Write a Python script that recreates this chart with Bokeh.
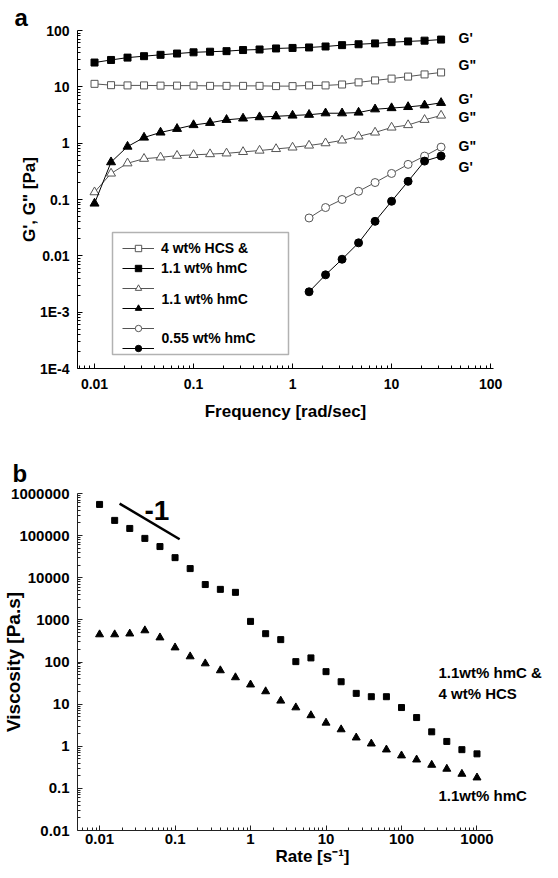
from bokeh.plotting import figure
from bokeh.layouts import column
from bokeh.models import (Range1d, FixedTicker, CustomJSTickFormatter, Legend,
                          LegendItem, Label, BoxAnnotation, Title)
from bokeh.embed import file_html
from bokeh.resources import INLINE

FONT = "Liberation Sans"

# ---------------- Panel a data ----------------
freq = [0.01, 0.01468, 0.02154, 0.03162, 0.04642, 0.06813, 0.1, 0.1468, 0.2154,
        0.3162, 0.4642, 0.6813, 1.0, 1.468, 2.154, 3.162, 4.642, 6.813, 10.0,
        14.68, 21.54, 31.62]
freq_055 = [1.468, 2.154, 3.162, 4.642, 6.813, 10.0, 14.68, 21.54, 31.62]

g1_hcs = [27, 30, 33, 35, 37, 39, 41, 42, 43, 45, 46, 48, 49, 50, 52, 55, 57, 59,
          62, 64, 66, 69]
g2_hcs = [11.3, 10.7, 10.6, 10.6, 10.5, 10.5, 10.5, 10.4, 10.4, 10.4, 10.4, 10.3,
          10.3, 10.6, 10.6, 11.0, 12.0, 13.0, 14.0, 15.2, 16.6, 18.0]
g1_hmc = [0.085, 0.46, 0.87, 1.26, 1.55, 1.8, 2.1, 2.3, 2.6, 2.75, 2.9, 3.0, 3.1,
          3.2, 3.4, 3.4, 3.5, 4.0, 4.2, 4.4, 4.7, 5.2]
g2_hmc = [0.135, 0.29, 0.44, 0.53, 0.56, 0.6, 0.62, 0.64, 0.66, 0.7, 0.74, 0.79,
          0.84, 0.91, 1.0, 1.12, 1.32, 1.55, 1.9, 2.1, 2.6, 3.1]
g2_055 = [0.047, 0.072, 0.1, 0.14, 0.2, 0.29, 0.42, 0.59, 0.85]
g1_055 = [0.0023, 0.0046, 0.0087, 0.017, 0.041, 0.093, 0.21, 0.48, 0.59]

curve_label_text = ["G'", 'G"', "G'", 'G"', 'G"', "G'"]
curve_label_x = [47.5] * 6
curve_label_y = [75, 24, 6.2, 2.87, 0.88, 0.37]

legend_labels = ["4 wt% HCS &", "1.1 wt% hmC", "1.1 wt% hmC", "0.55 wt% hmC"]

ya_ticks = [1e-4, 1e-3, 1e-2, 1e-1, 1, 10, 100]
xa_ticks = [0.01, 0.1, 1, 10, 100]

# ---------------- Panel b data ----------------
rate = [0.01, 0.01585, 0.02512, 0.03981, 0.0631, 0.1, 0.1585, 0.2512, 0.3981,
        0.631, 1.0, 1.585, 2.512, 3.981, 6.31, 10.0, 15.85, 25.12, 39.81, 63.1,
        100.0, 158.5, 251.2, 398.1, 631.0, 1000.0]
visc_hcs = [550000, 230000, 148000, 86000, 55000, 30000, 16500, 6900, 5300, 4500,
            920, 470, 340, 102, 125, 59, 34, 18, 15, 15, 8.3, 4.8, 2.2, 1.3,
            0.83, 0.66]
visc_hmc = [450, 450, 470, 560, 380, 220, 135, 92, 63, 43, 29, 20, 12, 8.3, 5.4,
            3.6, 2.5, 1.6, 1.15, 0.83, 0.6, 0.48, 0.36, 0.29, 0.22, 0.18]
slope_x = [0.0184, 0.115]
slope_y = [577000, 82000]
yb_ticks = [1e-2, 1e-1, 1, 10, 100, 1e3, 1e4, 1e5, 1e6]
xb_ticks = [0.01, 0.1, 1, 10, 100, 1000]
xb_bounds = (0.0051, 1550)


def minors(lo_exp, hi_exp, lo=0.0, hi=float("inf")):
    return [m * 10.0 ** e for e in range(lo_exp, hi_exp) for m in range(2, 10)
            if lo <= m * 10.0 ** e <= hi]


fmt_code = """
const e = Math.round(Math.log10(tick));
if (e <= -3) { return "1E" + e; }
if (e < 0) { return Math.pow(10, e).toFixed(-e); }
return String(Math.round(Math.pow(10, e)));
"""


def style(p, tick_size, title_size, axcolor="black"):
    for ax in (p.xaxis[0], p.yaxis[0]):
        ax.axis_line_color = axcolor
        ax.axis_line_width = 1
        ax.major_tick_line_color = axcolor
        ax.minor_tick_line_color = axcolor
        ax.major_tick_in = 5
        ax.major_tick_out = 0
        ax.minor_tick_in = 3
        ax.minor_tick_out = 0
        ax.major_label_text_font = FONT
        ax.major_label_text_font_style = "bold"
        ax.major_label_text_font_size = tick_size
        ax.major_label_text_color = "black"
        ax.axis_label_text_font = FONT
        ax.axis_label_text_font_style = "bold"
        ax.axis_label_text_font_size = title_size
        ax.axis_label_text_color = "black"
        ax.formatter = CustomJSTickFormatter(code=fmt_code)
    p.grid.visible = False
    p.outline_line_color = None
    p.background_fill_color = "white"
    p.border_fill_color = "white"


def panel_title(text, offset, standoff):
    return Title(text=text, align="left", offset=offset, standoff=standoff,
                 text_font=FONT, text_font_style="bold", text_font_size="24px",
                 text_color="black")


# ================= Panel a =================
pa = figure(x_axis_type="log", y_axis_type="log",
            x_range=Range1d(0.00673, 107), y_range=Range1d(1e-4, 100),
            frame_width=416, frame_height=338,
            min_border_left=70, min_border_right=56, min_border_top=30,
            min_border_bottom=65,
            title=panel_title("a", -63, 0),
            output_backend="svg", toolbar_location=None)
style(pa, "14px", "17px")
pa.xaxis[0].ticker = FixedTicker(ticks=xa_ticks, minor_ticks=minors(-3, 3))
pa.yaxis[0].ticker = FixedTicker(ticks=ya_ticks, minor_ticks=minors(-4, 2))
pa.xaxis[0].axis_label = "Frequency [rad/sec]"
pa.yaxis[0].axis_label = 'G\', G" [Pa]'
pa.xaxis[0].major_label_standoff = 10
pa.xaxis[0].axis_label_standoff = 10
pa.yaxis[0].major_label_standoff = 8
pa.yaxis[0].axis_label_standoff = -2

OPEN = "#555555"
l1 = pa.line(freq, g2_hcs, line_color=OPEN, line_width=1)
s1 = pa.scatter(freq, g2_hcs, marker="square", size=7, fill_color="white",
                line_color=OPEN, line_width=1)
l2 = pa.line(freq, g1_hcs, line_color="black", line_width=1)
s2 = pa.scatter(freq, g1_hcs, marker="square", size=7, fill_color="black",
                line_color="black")
l3 = pa.line(freq, g2_hmc, line_color=OPEN, line_width=1)
s3 = pa.scatter(freq, g2_hmc, marker="triangle", size=9, fill_color="white",
                line_color=OPEN, line_width=1)
l4 = pa.line(freq, g1_hmc, line_color="black", line_width=1)
s4 = pa.scatter(freq, g1_hmc, marker="triangle", size=9, fill_color="black",
                line_color="black")
l5 = pa.line(freq_055, g2_055, line_color=OPEN, line_width=1)
s5 = pa.scatter(freq_055, g2_055, marker="circle", size=8, fill_color="white",
                line_color=OPEN, line_width=1)
l6 = pa.line(freq_055, g1_055, line_color="black", line_width=1)
s6 = pa.scatter(freq_055, g1_055, marker="circle", size=8, fill_color="black",
                line_color="black")

pa.text(x=curve_label_x, y=curve_label_y, text=curve_label_text,
        text_font={"value": FONT}, text_font_style="bold",
        text_font_size="14px", text_baseline="middle", text_align="left",
        text_color="black")

# legend box
pa.add_layout(BoxAnnotation(left=35, right=211, bottom=14, top=136,
                            left_units="screen", right_units="screen",
                            bottom_units="screen", top_units="screen",
                            fill_color="white", fill_alpha=1,
                            line_color="black", line_width=1.5))
leg = Legend(items=[
    LegendItem(label=legend_labels[0], renderers=[l1, s1]),
    LegendItem(label=legend_labels[1], renderers=[l2, s2]),
    LegendItem(label=" ", renderers=[l3, s3]),
    LegendItem(label=" ", renderers=[l4, s4]),
    LegendItem(label=" ", renderers=[l5, s5]),
    LegendItem(label=" ", renderers=[l6, s6]),
], location=(45, 12), padding=0, margin=0, spacing=4,
    glyph_width=32, glyph_height=16, label_height=16, label_standoff=7,
    label_text_font=FONT, label_text_font_style="bold",
    label_text_font_size="14px", label_text_color="black",
    border_line_color=None, background_fill_alpha=0)
pa.add_layout(leg)
pa.add_layout(Label(x=84, y=70, x_units="screen", y_units="screen",
                    text=legend_labels[2], text_font=FONT,
                    text_font_style="bold", text_font_size="14px",
                    text_color="black", text_baseline="middle"))
pa.add_layout(Label(x=84, y=31, x_units="screen", y_units="screen",
                    text=legend_labels[3], text_font=FONT,
                    text_font_style="bold", text_font_size="14px",
                    text_color="black", text_baseline="middle"))

# ================= Panel b =================
pb = figure(x_axis_type="log", y_axis_type="log",
            x_range=Range1d(0.0051, 8590), y_range=Range1d(0.01, 1e6),
            frame_width=470, frame_height=337,
            min_border_left=72, min_border_right=0, min_border_top=60,
            min_border_bottom=40,
            title=panel_title("b", -65, 13),
            output_backend="svg", toolbar_location=None)
style(pb, "15px", "17px", axcolor="#222222")
pb.xaxis[0].bounds = xb_bounds
pb.xaxis[0].ticker = FixedTicker(ticks=xb_ticks,
                                 minor_ticks=minors(-3, 4, *xb_bounds))
pb.yaxis[0].ticker = FixedTicker(ticks=yb_ticks, minor_ticks=minors(-2, 6))
pb.xaxis[0].axis_label = "Rate [s⁻¹]"
pb.yaxis[0].axis_label = "Viscosity [Pa.s]"
pb.yaxis[0].axis_label_text_font_size = "19px"
pb.xaxis[0].major_label_standoff = 3
pb.xaxis[0].axis_label_standoff = 0
pb.yaxis[0].major_label_standoff = 8
pb.yaxis[0].axis_label_standoff = -16

pb.scatter(rate, visc_hcs, marker="square", size=6, fill_color="black",
           line_color="black")
pb.scatter(rate, visc_hmc, marker="triangle", size=8, fill_color="black",
           line_color="black")
pb.line(slope_x, slope_y, line_color="black", line_width=2.5)
pb.add_layout(Label(x=0.0394, y=390000, text="-1", text_font=FONT,
                    text_font_style="bold", text_font_size="28px",
                    text_color="black", text_baseline="middle"))
pb.add_layout(Label(x=309, y=56, text="1.1wt% hmC &", text_font=FONT,
                    text_font_style="bold", text_font_size="15px",
                    text_color="black", text_baseline="middle"))
pb.add_layout(Label(x=309, y=17.8, text="4 wt% HCS", text_font=FONT,
                    text_font_style="bold", text_font_size="15px",
                    text_color="black", text_baseline="middle"))
pb.add_layout(Label(x=309, y=0.067, text="1.1wt% hmC", text_font=FONT,
                    text_font_style="bold", text_font_size="15px",
                    text_color="black", text_baseline="middle"))

layout = column(pa, pb, spacing=0)
open("out.html", "w").write(file_html(layout, INLINE))
